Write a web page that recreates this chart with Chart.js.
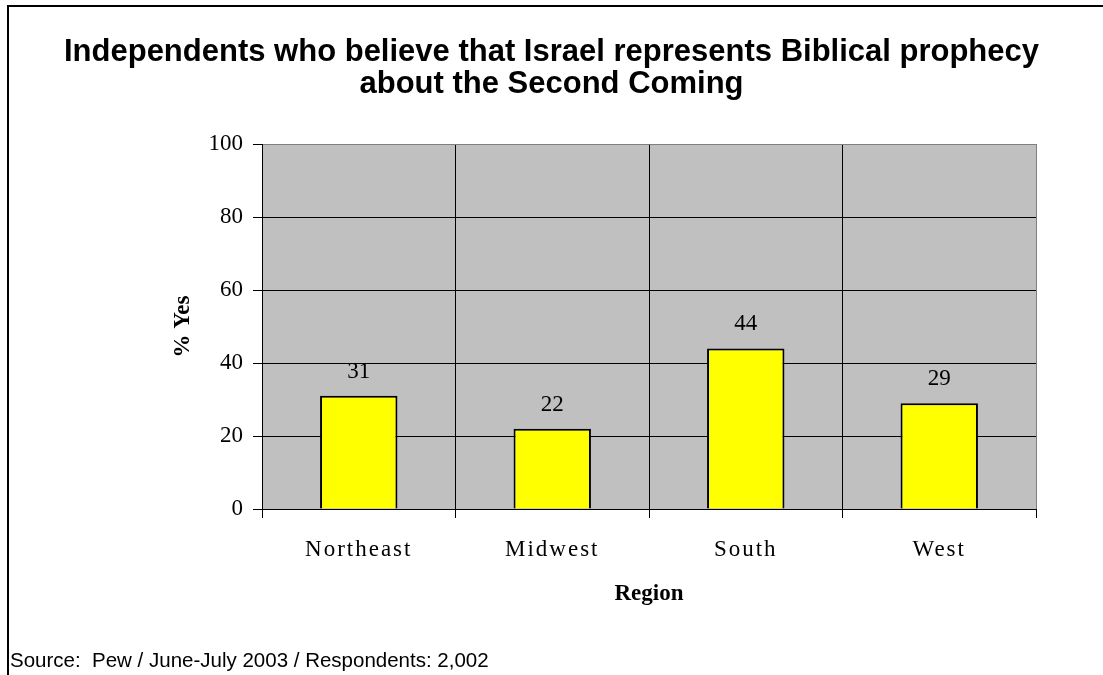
<!DOCTYPE html>
<html>
<head>
<meta charset="utf-8">
<script src="https://cdn.jsdelivr.net/npm/chart.js@4.4.1/dist/chart.umd.min.js"></script>
<style>
  html, body { margin: 0; padding: 0; background: #ffffff; }
  #c { display: block; }
</style>
</head>
<body>
<canvas id="c" width="1103" height="675"></canvas>
<script>
// ---- data ----
const titleLines = ["Independents who believe that Israel represents Biblical prophecy", "about the Second Coming"];
const categories = ["Northeast", "Midwest", "South", "West"];
const yesValues = [31, 22, 44, 29];
const yTitle = "% Yes";
const xTitle = "Region";
const sourceText = "Source:  Pew / June-July 2003 / Respondents: 2,002";

const serif = '"Liberation Serif", "Times New Roman", serif';
const sans = '"Liberation Sans", Arial, sans-serif';

const decorPlugin = {
  id: 'decor',
  beforeDraw(chart) {
    const {ctx, chartArea: a} = chart;
    ctx.save();
    ctx.fillStyle = '#ffffff';
    ctx.fillRect(0, 0, chart.width, chart.height);
    ctx.fillStyle = '#c0c0c0';
    ctx.fillRect(a.left, a.top, a.right - a.left, a.bottom - a.top);
    ctx.restore();
    // letter-spaced category labels, as in the reference
    const sx = chart.scales.x;
    if (sx && !sx._spacedPatch) {
      const orig = sx.drawLabels.bind(sx);
      sx.drawLabels = function (area) {
        const c = chart.ctx;
        c.save();
        c.letterSpacing = '2px';
        orig(area);
        c.restore();
      };
      sx._spacedPatch = true;
    }
  },
  afterDraw(chart) {
    const {ctx} = chart;
    ctx.save();
    // outer frame (top and left)
    ctx.strokeStyle = '#000';
    ctx.lineWidth = 2;
    ctx.beginPath();
    ctx.moveTo(8, 675);
    ctx.lineTo(8, 6);
    ctx.lineTo(1103, 6);
    ctx.stroke();
    // title
    ctx.fillStyle = '#000';
    ctx.font = 'bold 31px ' + sans;
    ctx.textAlign = 'center';
    ctx.textBaseline = 'alphabetic';
    ctx.fillText(titleLines[0], 551.5, 61);
    ctx.fillText(titleLines[1], 551.5, 93);
    // source
    ctx.font = '20.5px ' + sans;
    ctx.textAlign = 'left';
    ctx.fillText(sourceText, 10, 667);
    // data labels
    const meta = chart.getDatasetMeta(0);
    ctx.font = '23px ' + serif;
    ctx.textAlign = 'center';
    ctx.textBaseline = 'middle';
    meta.data.forEach((bar, i) => {
      ctx.fillText(String(yesValues[i]), bar.x, bar.y - 24);
    });
    ctx.restore();
  }
};

new Chart(document.getElementById('c'), {
  type: 'bar',
  data: {
    labels: categories,
    datasets: [{
      data: yesValues,
      backgroundColor: '#ffff00',
      borderColor: '#000000',
      borderWidth: 2,
      categoryPercentage: 1.0,
      barPercentage: 0.4
    }]
  },
  options: {
    responsive: false,
    animation: false,
    devicePixelRatio: 1,
    layout: { padding: { left: 160, right: 67, top: 144, bottom: 67 } },
    plugins: {
      legend: { display: false },
      title: { display: false },
      tooltip: { enabled: false }
    },
    scales: {
      x: {
        type: 'category',
        offset: true,
        afterFit(scale) { scale.height = 99; },
        grid: {
          offset: true,
          drawOnChartArea: true,
          color: (ctx) => (ctx.type === 'tick' ? '#000000' : '#808080'),
          tickColor: '#000000',
          tickLength: 9,
          lineWidth: 1
        },
        border: { color: '#000000', width: 1 },
        ticks: {
          color: '#000000',
          padding: 18,
          font: { family: serif, size: 23 },
          maxRotation: 0
        },
        title: {
          display: true,
          text: xTitle,
          color: '#000000',
          font: { family: serif, size: 23, weight: 'bold' },
          padding: 0
        }
      },
      y: {
        min: 0,
        max: 100,
        afterFit(scale) { scale.width = 102; },
        ticks: {
          stepSize: 20,
          color: '#000000',
          padding: 10,
          font: { family: serif, size: 23 }
        },
        grid: {
          color: (ctx) => (ctx.tick && ctx.tick.value === 100 ? '#808080' : '#000000'),
          tickColor: '#000000',
          tickLength: 9,
          lineWidth: 1
        },
        border: { color: '#000000', width: 1 },
        title: {
          display: true,
          text: yTitle,
          color: '#000000',
          font: { family: serif, size: 23, weight: 'bold' },
          padding: { top: 9, bottom: 0 }
        }
      }
    }
  },
  plugins: [decorPlugin]
});
</script>
</body>
</html>
